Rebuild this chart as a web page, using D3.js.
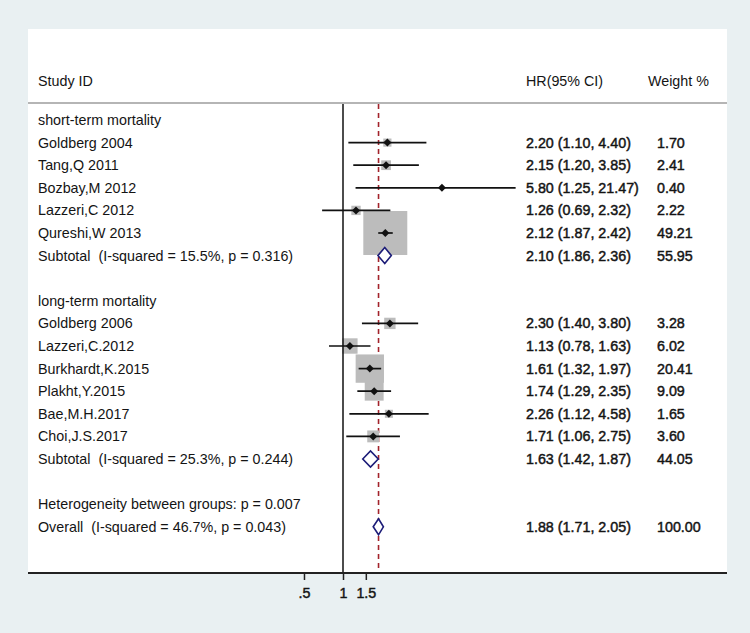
<!DOCTYPE html>
<html>
<head>
<meta charset="utf-8">
<script src="https://cdn.jsdelivr.net/npm/d3@7"></script>
<style>
  html, body { margin: 0; padding: 0; background: #e9f0f2; }
  svg { display: block; }
  text { font-family: "Liberation Sans", Arial, sans-serif; font-size: 14.3px; fill: #141414; white-space: pre; }
  .num { stroke: #141414; stroke-width: 0.45px; }
</style>
</head>
<body>
<svg id="chart" width="750" height="633"></svg>
<script>
// ---------------- data ----------------
const headerStudy = "Study ID";
const headerHR = "HR(95% CI)";
const headerWeight = "Weight %";

const shortLabel = "short-term mortality";
const shortStudies = ["Goldberg 2004", "Tang,Q 2011", "Bozbay,M 2012", "Lazzeri,C 2012", "Qureshi,W 2013"];
const shortHR = [2.20, 2.15, 5.80, 1.26, 2.12];
const shortLo = [1.10, 1.20, 1.25, 0.69, 1.87];
const shortHi = [4.40, 3.85, 21.47, 2.32, 2.42];
const shortWeight = [1.70, 2.41, 0.40, 2.22, 49.21];
const shortSubLabel = "Subtotal  (I-squared = 15.5%, p = 0.316)";
const shortSub = [2.10, 1.86, 2.36, 55.95]; // HR, lo, hi, weight

const longLabel = "long-term mortality";
const longStudies = ["Goldberg 2006", "Lazzeri,C.2012", "Burkhardt,K.2015", "Plakht,Y.2015", "Bae,M.H.2017", "Choi,J.S.2017"];
const longHR = [2.30, 1.13, 1.61, 1.74, 2.26, 1.71];
const longLo = [1.40, 0.78, 1.32, 1.29, 1.12, 1.06];
const longHi = [3.80, 1.63, 1.97, 2.35, 4.58, 2.75];
const longWeight = [3.28, 6.02, 20.41, 9.09, 1.65, 3.60];
const longSubLabel = "Subtotal  (I-squared = 25.3%, p = 0.244)";
const longSub = [1.63, 1.42, 1.87, 44.05];

const heterogeneityLabel = "Heterogeneity between groups: p = 0.007";
const overallLabel = "Overall  (I-squared = 46.7%, p = 0.043)";
const overall = [1.88, 1.71, 2.05, 100.00];

const tickValues = [0.5, 1, 1.5];
const tickLabels = [".5", "1", "1.5"];
const axisLimit = 22; // plotted range is 1/22 .. 22 (log scale)

// ---------------- build rows ----------------
const rows = [];
rows.push({type: "group", label: shortLabel});
shortStudies.forEach((s, i) => rows.push({type: "study", label: s, hr: shortHR[i], lo: shortLo[i], hi: shortHi[i], w: shortWeight[i]}));
rows.push({type: "sub", label: shortSubLabel, hr: shortSub[0], lo: shortSub[1], hi: shortSub[2], w: shortSub[3]});
rows.push({type: "blank"});
rows.push({type: "group", label: longLabel});
longStudies.forEach((s, i) => rows.push({type: "study", label: s, hr: longHR[i], lo: longLo[i], hi: longHi[i], w: longWeight[i]}));
rows.push({type: "sub", label: longSubLabel, hr: longSub[0], lo: longSub[1], hi: longSub[2], w: longSub[3]});
rows.push({type: "blank"});
rows.push({type: "group", label: heterogeneityLabel});
rows.push({type: "sub", label: overallLabel, hr: overall[0], lo: overall[1], hi: overall[2], w: overall[3], overall: true});
rows.forEach((r, i) => r.i = i);

// ---------------- layout ----------------
const svg = d3.select("#chart");
const W = 750, H = 633;
const panel = {x0: 28, x1: 727, y0: 29, y1: 573};
const headerY = 81, sepY = 103;
const labelX = 38, hrX = 526, weightX = 657, weightHeadX = 648;

const x = d3.scaleLog().domain([1 / axisLimit, axisLimit]).range([169, 517]);
const y = d3.scaleLinear().domain([0, rows.length - 1]).range([120, 526.8]);
const side = d3.scaleSqrt().domain([0, 100]).range([0, 62.7]);
const fmt = d3.format(".2f");

svg.append("rect").attr("width", W).attr("height", H).attr("fill", "#e9f0f2");
svg.append("rect").attr("x", panel.x0).attr("y", panel.y0)
  .attr("width", panel.x1 - panel.x0).attr("height", panel.y1 - panel.y0).attr("fill", "#ffffff");

// header
svg.append("text").attr("x", labelX).attr("y", headerY).attr("dy", "0.35em").text(headerStudy);
svg.append("text").attr("x", hrX).attr("y", headerY).attr("dy", "0.35em").text(headerHR);
svg.append("text").attr("x", weightHeadX).attr("y", headerY).attr("dy", "0.35em").text(headerWeight);
svg.append("line").attr("x1", panel.x0).attr("x2", panel.x1).attr("y1", sepY).attr("y2", sepY)
  .attr("stroke", "#b5b5b5").attr("stroke-width", 2);

// overall effect dashed line
svg.append("line").attr("x1", x(overall[0])).attr("x2", x(overall[0]))
  .attr("y1", sepY + 1).attr("y2", panel.y1)
  .attr("stroke", "#a3232b").attr("stroke-width", 1.6).attr("stroke-dasharray", "5,4");

// weight boxes
const studies = rows.filter(r => r.type === "study");
svg.append("g").selectAll("rect").data(studies).join("rect")
  .attr("x", d => x(d.hr) - side(d.w) / 2)
  .attr("y", d => y(d.i) - side(d.w) / 2)
  .attr("width", d => side(d.w))
  .attr("height", d => side(d.w))
  .attr("fill", "#bcbcbc");

// null line
svg.append("line").attr("x1", x(1)).attr("x2", x(1))
  .attr("y1", sepY + 1).attr("y2", panel.y1)
  .attr("stroke", "#111").attr("stroke-width", 1.5);

// CI lines
const ci = svg.append("g");
studies.forEach(d => {
  const lo = Math.max(d.lo, 1 / axisLimit), hi = Math.min(d.hi, axisLimit);
  ci.append("line").attr("x1", x(lo)).attr("x2", x(hi)).attr("y1", y(d.i)).attr("y2", y(d.i))
    .attr("stroke", "#111").attr("stroke-width", 1.7);
  if (d.hi > axisLimit) {
    const tx = x(axisLimit), ty = y(d.i);
    ci.append("path").attr("d", `M${tx - 9},${ty - 5}L${tx},${ty}L${tx - 9},${ty + 5}`)
      .attr("fill", "none").attr("stroke", "#111").attr("stroke-width", 1.4);
  }
});

// point estimate markers
svg.append("g").selectAll("path").data(studies).join("path")
  .attr("d", d => {
    const cx = x(d.hr), cy = y(d.i), r = 4;
    return `M${cx - r},${cy}L${cx},${cy - r}L${cx + r},${cy}L${cx},${cy + r}Z`;
  })
  .attr("fill", "#111");

// subtotal / overall diamonds
const subs = rows.filter(r => r.type === "sub");
svg.append("g").selectAll("path").data(subs).join("path")
  .attr("d", d => {
    const cy = y(d.i), h = 8;
    return `M${x(d.lo)},${cy}L${x(d.hr)},${cy - h}L${x(d.hi)},${cy}L${x(d.hr)},${cy + h}Z`;
  })
  .attr("fill", "#ffffff").attr("stroke", "#1c1c78").attr("stroke-width", 1.6);

// left labels
svg.append("g").selectAll("text").data(rows.filter(r => r.label)).join("text")
  .attr("x", labelX).attr("y", d => y(d.i)).attr("dy", "0.35em").text(d => d.label);

// HR and weight columns
const numRows = rows.filter(r => r.type === "study" || r.type === "sub");
svg.append("g").selectAll("text").data(numRows).join("text")
  .attr("class", "num").attr("x", hrX).attr("y", d => y(d.i)).attr("dy", "0.35em")
  .text(d => `${fmt(d.hr)} (${fmt(d.lo)}, ${fmt(d.hi)})`);
svg.append("g").selectAll("text").data(numRows).join("text")
  .attr("class", "num").attr("x", weightX).attr("y", d => y(d.i)).attr("dy", "0.35em")
  .text(d => fmt(d.w));

// axis
svg.append("line").attr("x1", panel.x0).attr("x2", panel.x1).attr("y1", panel.y1).attr("y2", panel.y1)
  .attr("stroke", "#222").attr("stroke-width", 2);
const axis = d3.axisBottom(x).tickValues(tickValues)
  .tickFormat((d, i) => tickLabels[i]).tickSize(7).tickPadding(8);
const ag = svg.append("g").attr("transform", `translate(0,${panel.y1})`).call(axis);
ag.select(".domain").remove();
ag.selectAll(".tick line").attr("stroke", "#222").attr("stroke-width", 1.5);
ag.selectAll(".tick text").attr("class", "num").attr("fill", "#141414")
  .style("font-family", '"Liberation Sans", Arial, sans-serif').style("font-size", "14.3px");
</script>
</body>
</html>
